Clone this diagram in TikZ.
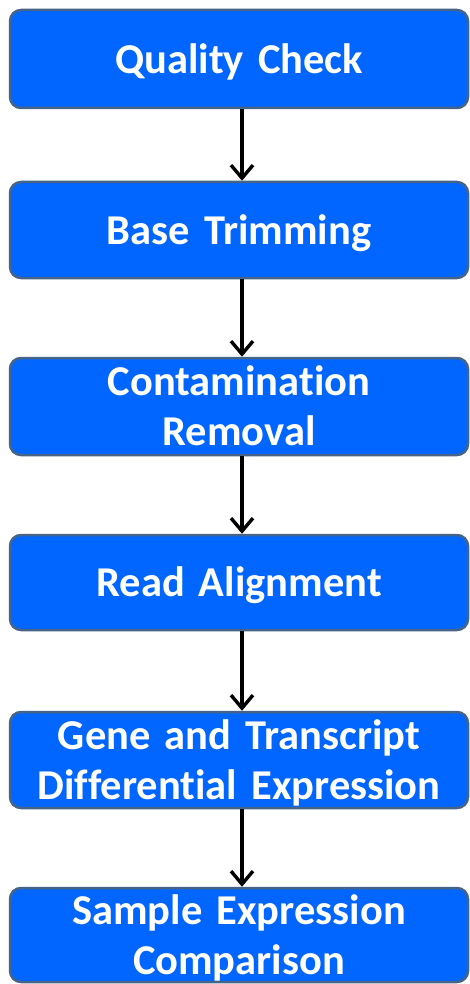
\documentclass[tikz,border=0pt]{standalone}
\usepackage{fontspec}
\setmainfont{Carlito}[Ligatures=NoCommon]
\usetikzlibrary{arrows.meta}
\definecolor{boxfill}{RGB}{0,102,255}
\definecolor{boxline}{RGB}{70,100,135}
\begin{document}
\begin{tikzpicture}[x=1pt,y=1pt,
  stagebox/.style={draw=boxline, line width=2.5pt, fill=boxfill, rounded corners=11pt,
    minimum width=458pt, minimum height=96pt, inner sep=0pt, text width=458pt,
    text depth=1pt, align=center, text=white,
    font=\fontsize{42.5}{50}\selectfont\bfseries},
  % a second line of text adds one baseline skip below the first
  twoline/.style={text depth=51pt},
  flow/.style={line width=3.4pt, -{Straight Barb[length=13pt,width=22pt,line width=3.4pt]}}]
\useasboundingbox (0,0) rectangle (470,-984);
\node[stagebox, minimum height=98pt] (qc) at (239,-59) {Quality Check};
\node[stagebox] (bt) at (239,-230) {Base Trimming};
\node[stagebox, twoline, minimum height=97pt] (cr) at (239,-406.5) {Contamination\\Removal};
\node[stagebox, minimum height=95pt] (ra) at (239,-582.5) {Read Alignment};
\node[stagebox, twoline] (de) at (239,-760) {Gene and Transcript\\Differential Expression};
\node[stagebox, twoline, minimum height=94pt] (sc) at (239,-935) {Sample Expression\\Comparison};
\foreach \a/\b in {qc/bt, bt/cr, cr/ra, ra/de, de/sc}
  \draw[flow] ([xshift=3pt]\a.south) -- ([xshift=3pt]\b.north);
\end{tikzpicture}
\end{document}
